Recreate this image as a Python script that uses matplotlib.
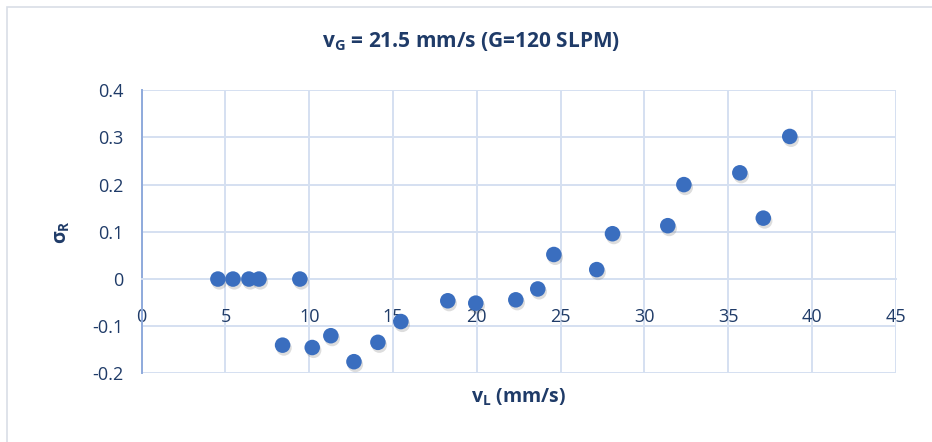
import matplotlib
matplotlib.use("Agg")
import matplotlib.pyplot as plt
import matplotlib.patheffects as pe
from matplotlib.patches import Rectangle

plt.rcParams['font.family'] = ['Open Sans', 'DejaVu Sans']
plt.rcParams['mathtext.default'] = 'regular'

# liquid velocity vL (mm/s) and sigma_R
vL = [4.55, 5.45, 6.40, 7.00, 9.44, 8.41, 10.18, 11.29, 12.67, 14.10, 15.47,
      18.27, 19.94, 22.33, 23.64, 24.60, 27.16, 28.10, 31.40, 32.36, 35.70,
      37.10, 38.68]
sigmaR = [0.0, 0.0, 0.0, 0.0, 0.0, -0.140, -0.145, -0.120, -0.175, -0.134,
          -0.090, -0.046, -0.051, -0.044, -0.021, 0.052, 0.020, 0.096, 0.113,
          0.200, 0.225, 0.129, 0.302]

xticks = [0, 5, 10, 15, 20, 25, 30, 35, 40, 45]
yticks = [-0.2, -0.1, 0, 0.1, 0.2, 0.3, 0.4]
ylabels = ['-0.2', '-0.1', '0', '0.1', '0.2', '0.3', '0.4']

txt = '#1F3B68'
grid = '#D5E0F1'

fig = plt.figure(figsize=(9.32, 4.42), dpi=100)
fig.patches.append(Rectangle((7 / 932, -0.1), 1.2, 1 - 7 / 442 + 0.1,
                             transform=fig.transFigure, fill=False,
                             edgecolor='#D9DEE6', linewidth=1.2))
ax = fig.add_axes([0.152, 0.155, 0.809, 0.641])

ax.scatter(vL, sigmaR, s=125, color='#3A6EBF', zorder=3, linewidths=0,
           path_effects=[pe.SimplePatchShadow(offset=(1, -2), alpha=0.2,
                                              shadow_rgbFace='#555555'),
                         pe.Normal()])

ax.set_xlim(0, 45)
ax.set_ylim(-0.2, 0.4)
ax.set_xticks(xticks)
ax.set_yticks(yticks)
ax.set_yticklabels(ylabels)
ax.grid(True, color=grid, linewidth=1.4, zorder=0)
ax.set_axisbelow(True)

for s in ['top', 'right']:
    ax.spines[s].set_visible(False)
ax.spines['left'].set_color('#8FAADC')
ax.spines['left'].set_linewidth(1.4)
ax.spines['bottom'].set_position(('data', 0))
ax.spines['bottom'].set_color(grid)
ax.spines['bottom'].set_linewidth(1.4)

ax.tick_params(axis='both', length=0, labelsize=13, labelcolor=txt)
ax.tick_params(axis='x', pad=21)
ax.tick_params(axis='y', pad=13)

fig.text(0.505, 0.905, 'v$_G$ = 21.5 mm/s (G=120 SLPM)', ha='center',
         va='center', fontsize=15, fontweight='bold', color=txt)
fig.text(519 / 932, 1 - 397 / 442, 'v$_L$ (mm/s)', ha='center', va='center',
         fontsize=14, fontweight='bold', color=txt)
fig.text(62 / 932, 1 - 232 / 442, 'σ$_R$', ha='center', va='center',
         rotation=90, fontsize=14, fontweight='bold', color=txt)

fig.savefig('out.png', dpi=100)
